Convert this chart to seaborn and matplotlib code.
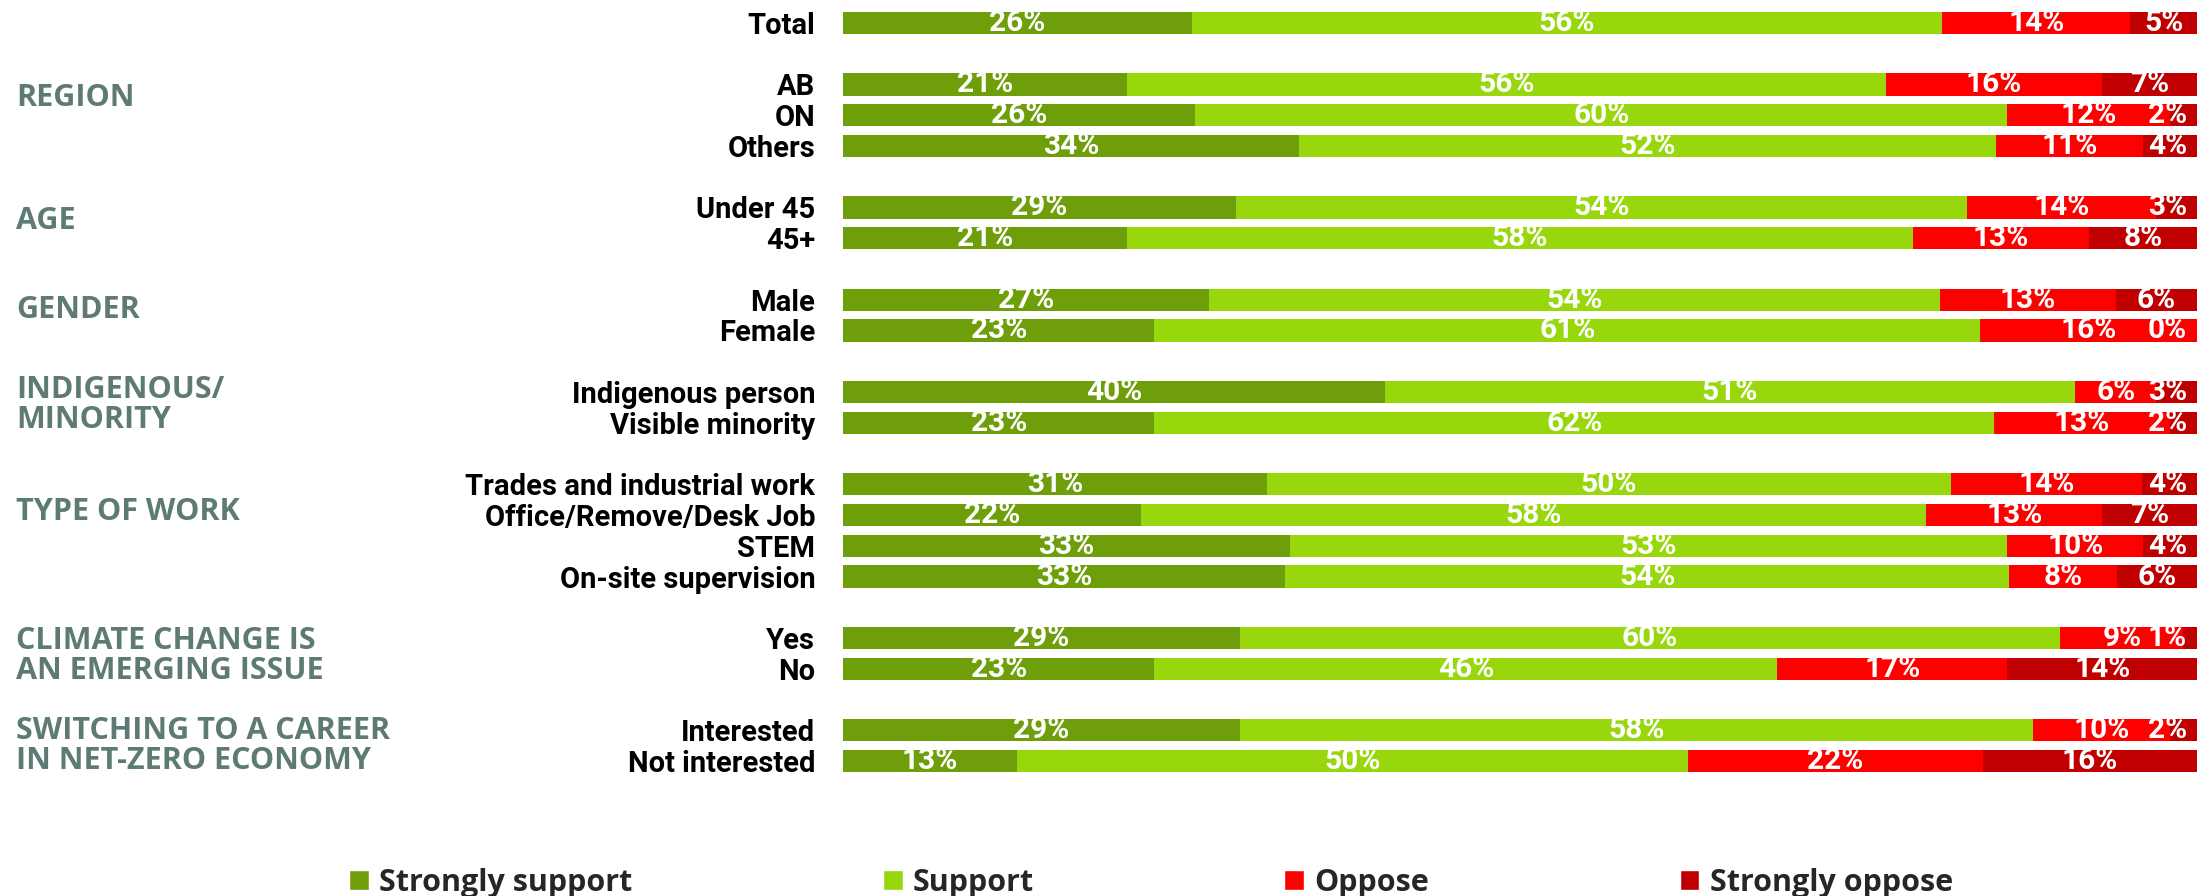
import pandas as pd
import matplotlib.pyplot as plt
import matplotlib.transforms as mtransforms
from matplotlib.patches import Patch
import seaborn as sns

sns.set_theme(style="white")
plt.rcParams['font.family'] = ['Roboto', 'DejaVu Sans']

# rows (top to bottom), with row slots leaving a blank line between groups
labels = ["Total", "AB", "ON", "Others", "Under 45", "45+", "Male", "Female",
          "Indigenous person", "Visible minority", "Trades and industrial work",
          "Office/Remove/Desk Job", "STEM", "On-site supervision", "Yes", "No",
          "Interested", "Not interested"]
slots = [0, 2, 3, 4, 6, 7, 9, 10, 12, 13, 15, 16, 17, 18, 20, 21, 23, 24]

strongly_support = [26, 21, 26, 34, 29, 21, 27, 23, 40, 23, 31, 22, 33, 33, 29, 23, 29, 13]
support = [56, 56, 60, 52, 54, 58, 54, 61, 51, 62, 50, 58, 53, 54, 60, 46, 58, 50]
oppose = [14, 16, 12, 11, 14, 13, 13, 16, 6, 13, 14, 13, 10, 8, 9, 17, 10, 22]
strongly_oppose = [5, 7, 2, 4, 3, 8, 6, 0, 3, 2, 4, 7, 4, 6, 1, 14, 2, 16]

groups = ["REGION", "AGE", "GENDER", "INDIGENOUS/\nMINORITY", "TYPE OF WORK",
          "CLIMATE CHANGE IS\nAN EMERGING ISSUE", "SWITCHING TO A CAREER\nIN NET-ZERO ECONOMY"]
group_y = [2.44, 6.44, 9.33, 12.42, 15.9, 20.6, 23.52]

series = ["Strongly support", "Support", "Oppose", "Strongly oppose"]
colors = ["#6e9e0a", "#97d70b", "#ff0000", "#c00000"]

df = pd.DataFrame({"label": labels, "pos": slots,
                   "Strongly support": strongly_support, "Support": support,
                   "Oppose": oppose, "Strongly oppose": strongly_oppose})
total = df[series].sum(axis=1)
for s in series:
    df[s + "_pct"] = df[s] / total * 100
cum = df[[s + "_pct" for s in series]].cumsum(axis=1)
cum.columns = series
df = pd.concat([df, cum.add_prefix("cum_")], axis=1)

fig = plt.figure(figsize=(22.05, 8.96), dpi=100)
ax = fig.add_axes([0.3823, 0.1335, 0.6141, 0.858])

# stacked bars: draw cumulative totals from the right-most series back
for s, c in reversed(list(zip(series, colors))):
    sns.barplot(data=df, x="cum_" + s, y="pos", orient="h", native_scale=True,
                color=c, width=0.73, saturation=1, edgecolor="none", ax=ax)

ax.set_xlim(0, 100)
ax.set_ylim(24.5, -0.5)
ax.set_xlabel("")
ax.set_ylabel("")
ax.set_xticks([])
ax.set_yticks(slots)
ax.set_yticklabels(labels, fontsize=21, fontweight="bold", color="black")
ax.tick_params(axis="y", length=0, pad=20)
for sp in ax.spines.values():
    sp.set_visible(False)

# percentage labels
for _, r in df.iterrows():
    left = 0
    for s in series:
        w = r[s + "_pct"]
        xc = min(left + w / 2, 97.8)
        ax.text(xc, r["pos"], f"{int(r[s])}%", ha="center", va="center",
                color="white", fontsize=21.5, fontweight="bold")
        left += w

trans = mtransforms.blended_transform_factory(fig.transFigure, ax.transData)
for g, gy in zip(groups, group_y):
    ax.text(16 / 2205, gy, g, transform=trans, ha="left", va="center",
            fontsize=22, fontweight="bold", color="#5e7a74", linespacing=1.0,
            family=["Open Sans", "DejaVu Sans"])

handles = [Patch(facecolor=c, label=s) for s, c in zip(series, colors)]
leg = fig.legend(handles=handles, loc="center left", bbox_to_anchor=(349 / 2205, 1 - 883 / 896),
                 ncol=4, frameon=False, handlelength=0.65, handleheight=0.65,
                 handletextpad=0.33, columnspacing=8.2, borderpad=0, borderaxespad=0,
                 prop={"size": 22, "weight": "bold", "family": ["Open Sans", "DejaVu Sans"]})

fig.savefig("out.png", dpi=100)
